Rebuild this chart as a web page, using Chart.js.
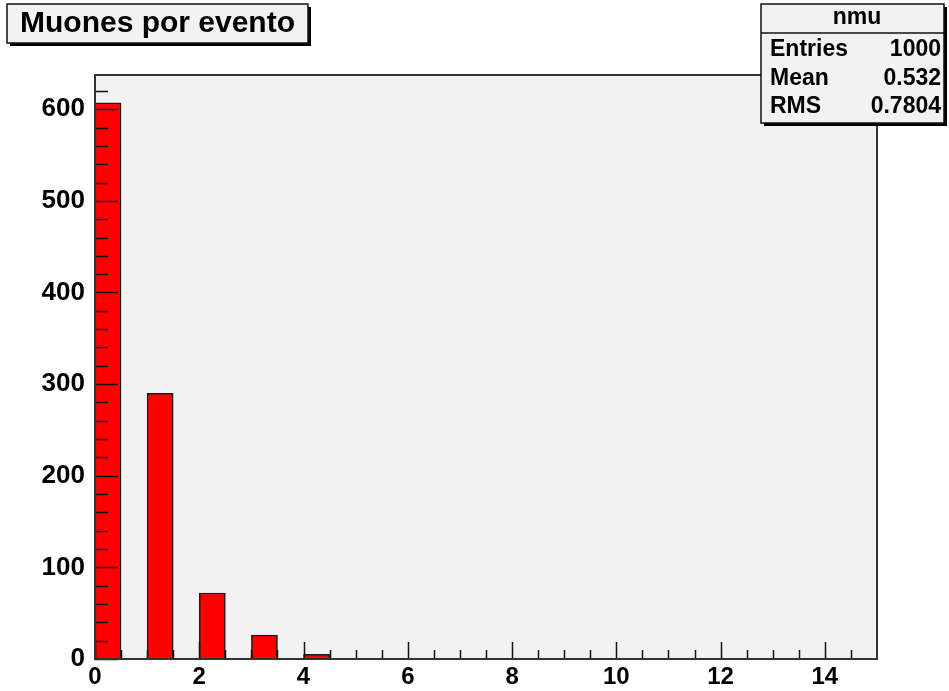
<!DOCTYPE html>
<html>
<head>
<meta charset="utf-8">
<script src="https://cdn.jsdelivr.net/npm/chart.js@4"></script>
<style>
  body { margin: 0; background: #fff; }
</style>
</head>
<body>
<canvas id="graph" width="949" height="691"></canvas>
<script>
// histogram nmu, bins of 0.5 (only the filled region listed, rest are empty)
const TITLE = "Muones por evento";
const binCenters = [0.25, 0.75, 1.25, 1.75, 2.25, 2.75, 3.25, 3.75, 4.25, 4.75];
const counts = [607, 0, 290, 0, 72, 0, 26, 0, 5, 0];
const xMin = 0, xMax = 15, xTickStep = 2, xMinorStep = 0.5;
const yMax = 637.35, yTickStep = 100, yMinorStep = 20;
const statsName = "nmu";
const statsLabels = ["Entries", "Mean", "RMS"];
const statsValues = ["1000", "0.532", "0.7804"];

const FONT = '"Liberation Sans", Arial, Helvetica, sans-serif';
const PAD_BG = "#f2f2f2";

// ROOT-like frame: grey pad, ticks inside, title and stats boxes
const rootFrame = {
    id: "rootFrame",
    beforeDatasetsDraw(chart) {
        const { ctx, chartArea: a } = chart;
        ctx.save();
        ctx.fillStyle = PAD_BG;
        ctx.fillRect(a.left, a.top, a.right - a.left, a.bottom - a.top);
        ctx.restore();
    },
    afterDatasetsDraw(chart) {
        const { ctx, chartArea: a } = chart;
        const xs = chart.scales.x, ys = chart.scales.y;
        ctx.save();
        ctx.strokeStyle = "#111";
        ctx.lineWidth = 1.5;
        ctx.beginPath();
        for (let i = 0; xMin + i * xMinorStep < xMax; i++) {
            const v = xMin + i * xMinorStep;
            const px = Math.round(xs.getPixelForValue(v)) + 0.5;
            const len = (v % xTickStep === 0) ? 17 : 9;
            ctx.moveTo(px, a.bottom);
            ctx.lineTo(px, a.bottom - len);
        }
        for (let i = 0; i * yMinorStep < yMax; i++) {
            const v = i * yMinorStep;
            const py = Math.round(ys.getPixelForValue(v)) + 0.5;
            const len = (v % yTickStep === 0) ? 23 : 13;
            ctx.moveTo(a.left, py);
            ctx.lineTo(a.left + len, py);
        }
        ctx.stroke();

        ctx.strokeStyle = "#333";
        ctx.lineWidth = 2;
        ctx.strokeRect(a.left, a.top, a.right - a.left, a.bottom - a.top);
        ctx.restore();
    },
    afterDraw(chart) {
        const ctx = chart.ctx;
        ctx.save();
        // title box
        drawBox(ctx, 7, 4, 301, 39);
        ctx.fillStyle = "#000";
        ctx.font = "bold 30px " + FONT;
        ctx.textAlign = "center";
        ctx.textBaseline = "middle";
        ctx.fillText(TITLE, 157.5, 24);

        // stats box
        drawBox(ctx, 761, 4, 183, 119);
        ctx.strokeStyle = "#111";
        ctx.lineWidth = 1.5;
        ctx.beginPath();
        ctx.moveTo(761, 33);
        ctx.lineTo(944, 33);
        ctx.stroke();
        ctx.fillStyle = "#000";
        ctx.font = "bold 23px " + FONT;
        ctx.textAlign = "center";
        ctx.fillText(statsName, 857, 18);
        const rowY = [50, 79, 107];
        statsLabels.forEach((lab, i) => {
            ctx.textAlign = "left";
            ctx.fillText(lab, 770, rowY[i]);
            ctx.textAlign = "right";
            ctx.fillText(statsValues[i], 941, rowY[i]);
        });
        ctx.restore();
    }
};

function drawBox(ctx, x, y, w, h) {
    ctx.fillStyle = "#000";
    ctx.fillRect(x + 3, y + 3, w, h);
    ctx.fillStyle = PAD_BG;
    ctx.fillRect(x, y, w, h);
    ctx.strokeStyle = "#111";
    ctx.lineWidth = 1.5;
    ctx.strokeRect(x, y, w, h);
}

const ctx = document.getElementById("graph").getContext("2d");
new Chart(ctx, {
    type: "bar",
    data: {
        datasets: [{
            label: statsName,
            data: binCenters.map((c, i) => ({ x: c, y: counts[i] })),
            backgroundColor: "#ff0000",
            borderColor: "#1a1a1a",
            borderWidth: c => (c.raw && c.raw.y > 0 ? 1.5 : 0),
            borderSkipped: "bottom",
            barPercentage: 1,
            categoryPercentage: 1
        }]
    },
    options: {
        responsive: false,
        animation: false,
        devicePixelRatio: 1,
        layout: { padding: { top: 75, right: 72, left: 0, bottom: 0 } },
        plugins: {
            legend: { display: false },
            tooltip: { enabled: false },
            title: { display: false }
        },
        scales: {
            x: {
                type: "linear",
                offset: false,
                min: xMin,
                max: xMax,
                grid: { display: false, drawTicks: false, offset: false },
                border: { display: false },
                ticks: {
                    stepSize: xTickStep,
                    includeBounds: false,
                    autoSkip: false,
                    maxRotation: 0,
                    padding: 4,
                    color: "#000",
                    font: { family: FONT, size: 24, weight: "bold" }
                },
                afterFit(scale) { scale.height = 32; }
            },
            y: {
                min: 0,
                max: yMax,
                grid: { display: false, drawTicks: false },
                border: { display: false },
                ticks: {
                    stepSize: yTickStep,
                    includeBounds: false,
                    padding: 10,
                    color: "#000",
                    font: { family: FONT, size: 26, weight: "bold" }
                },
                afterFit(scale) { scale.width = 95; }
            }
        }
    },
    plugins: [rootFrame]
});
</script>
</body>
</html>
